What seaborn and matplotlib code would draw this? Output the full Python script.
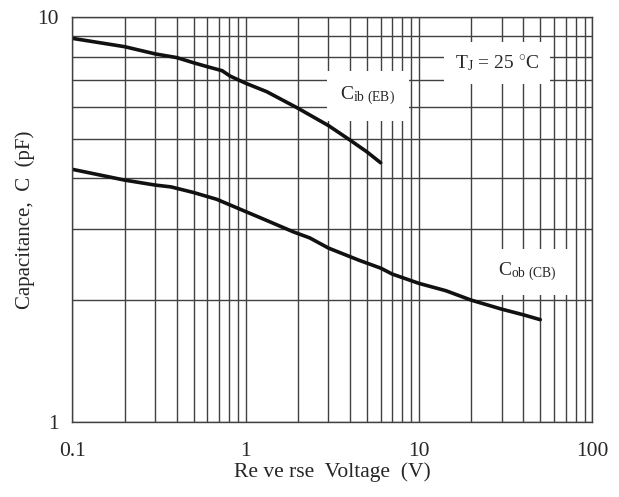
import matplotlib
matplotlib.use("Agg")
import matplotlib.pyplot as plt
import seaborn as sns
import pandas as pd
from matplotlib.ticker import LogLocator, FixedLocator, NullFormatter

# Data
cib_v = [0.1, 0.2, 0.3, 0.4, 0.5, 0.6, 0.73, 0.81, 1.0, 1.32, 2.0, 3.0, 4.0, 5.0, 6.0]
cib_c = [8.87, 8.46, 8.12, 7.95, 7.72, 7.55, 7.38, 7.16, 6.87, 6.55, 5.96, 5.40, 4.97, 4.65, 4.37]

cob_v = [0.1, 0.2, 0.3, 0.37, 0.5, 0.68, 1.0, 1.27, 1.88, 2.34, 3.0, 4.5, 6.0, 7.0,
         10, 14.3, 20, 30, 40, 50]
cob_c = [4.21, 3.96, 3.85, 3.81, 3.69, 3.55, 3.31, 3.17, 2.95, 2.85, 2.69, 2.51, 2.40, 2.32,
         2.20, 2.11, 2.0, 1.90, 1.84, 1.79]

x_ticks = [0.1, 1, 10, 100]
x_tick_labels = ["0.1", "1", "10", "100"]
y_ticks = [1, 10]
y_tick_labels = ["1", "10"]

df = pd.concat([
    pd.DataFrame({"V": cib_v, "C": cib_c, "series": "Cib"}),
    pd.DataFrame({"V": cob_v, "C": cob_c, "series": "Cob"}),
])

sns.set_style("white")
plt.rcParams["font.family"] = ["Liberation Serif", "DejaVu Serif"]
plt.rcParams["mathtext.fontset"] = "custom"
plt.rcParams["mathtext.rm"] = "Liberation Serif"
plt.rcParams["mathtext.it"] = "Liberation Serif:italic"

fig = plt.figure(figsize=(6.19, 4.97), dpi=100)
ax = fig.add_axes([0.1171, 0.1509, 0.8400, 0.8143])

grid_color = "#404040"
ax.set_xscale("log")
ax.set_yscale("log")
ax.set_xlim(0.1, 100)
ax.set_ylim(1, 10)

ax.xaxis.set_minor_locator(LogLocator(base=10, subs=range(2, 10)))
ax.yaxis.set_minor_locator(LogLocator(base=10, subs=range(2, 10)))
ax.xaxis.set_minor_formatter(NullFormatter())
ax.yaxis.set_minor_formatter(NullFormatter())
ax.grid(True, which="both", color=grid_color, linewidth=1.0)
ax.set_axisbelow(True)

sns.lineplot(data=df, x="V", y="C", hue="series", units="series", estimator=None,
             palette={"Cib": "#111111", "Cob": "#111111"}, linewidth=2.6,
             legend=False, ax=ax, sort=False)

ax.xaxis.set_major_locator(FixedLocator(x_ticks))
ax.set_xticklabels(x_tick_labels)
ax.yaxis.set_major_locator(FixedLocator(y_ticks))
ax.set_yticklabels(y_tick_labels)
ax.tick_params(axis="both", which="major", length=4.3, width=1.0, color=grid_color,
               labelsize=15.5, direction="out")
ax.tick_params(axis="y", which="major", pad=5.5)
ax.tick_params(axis="x", which="major", pad=10)
ax.tick_params(axis="both", which="minor", length=0)

for s in ax.spines.values():
    s.set_color(grid_color)
    s.set_linewidth(1.0)

ax.set_xlabel("Re ve rse  Voltage  (V)", fontsize=15.5, labelpad=1)
ax.set_ylabel("Capacitance,  C  (pF)", fontsize=15, labelpad=2)

box = dict(boxstyle="square,pad=0.55", facecolor="white", edgecolor="none")
ax.text(0.816, 0.887, r"T$_{\mathrm{J}}$ = 25 $^{\circ}$C", transform=ax.transAxes,
        ha="center", va="center", fontsize=14, bbox=box)
ax.text(0.568, 0.806, r"C$_{\mathrm{ib\ (EB)}}$", transform=ax.transAxes,
        ha="center", va="center", fontsize=14, bbox=dict(boxstyle="square,pad=0.7",
                                                           facecolor="white", edgecolor="none"))
ax.text(0.874, 0.371, r"C$_{\mathrm{ob\ (CB)}}$", transform=ax.transAxes,
        ha="center", va="center", fontsize=14, bbox=dict(boxstyle="square,pad=0.6",
                                                           facecolor="white", edgecolor="none"))

fig.savefig("out.png", dpi=100)
